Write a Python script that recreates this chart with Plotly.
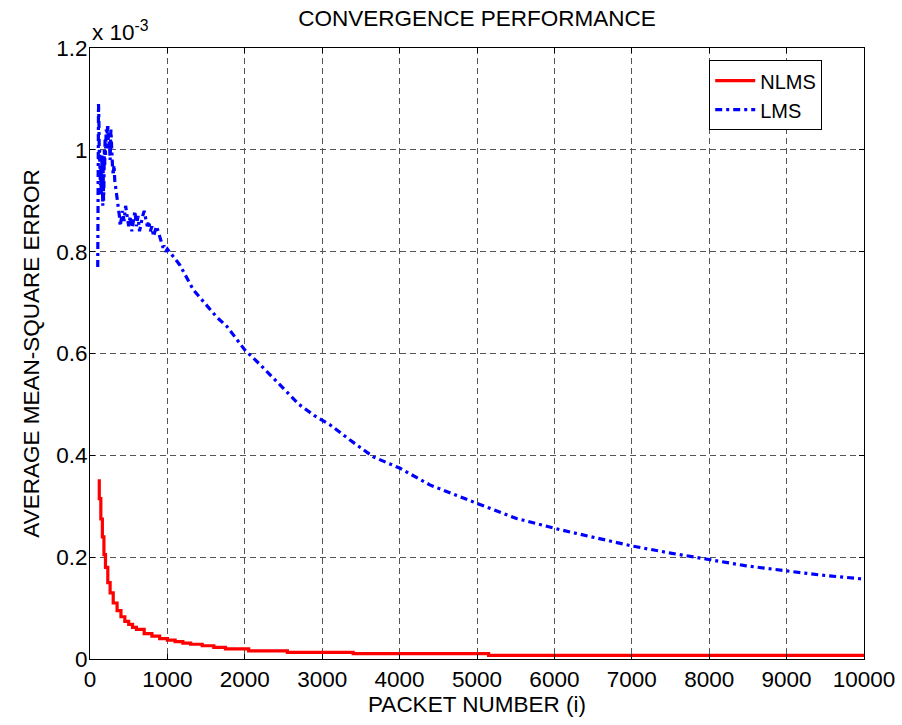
import plotly.graph_objects as go

# Values in units of 1e-3
nlms_x = [100, 120, 140, 160, 180, 200, 230, 260, 300, 350, 400, 450, 500, 550, 600, 700, 800,
          900, 1000, 1100, 1200, 1300, 1450, 1600, 1750, 2050, 2550, 3400, 5150, 10000]
nlms_y = [0.35, 0.315, 0.275, 0.24, 0.205, 0.18, 0.15, 0.13, 0.11, 0.095, 0.083, 0.074, 0.068,
          0.062, 0.058, 0.050, 0.045, 0.040, 0.037, 0.034, 0.031, 0.029, 0.026, 0.023, 0.020,
          0.016, 0.013, 0.0105, 0.007, 0.007]

lms_x = [100, 102, 105, 110, 115, 120, 125, 130, 135, 140, 145, 150, 155, 160, 165, 170, 175,
         180, 185, 190, 195, 200, 210, 220, 230, 240, 250, 260, 270, 280, 290, 300, 310, 320,
         330, 340, 350, 360, 370, 380, 390, 400, 420, 440, 460, 480, 500, 520, 540, 560, 580,
         600, 620, 640, 660, 680, 700, 720, 740, 760, 780, 800, 820, 840, 860, 880, 900, 920,
         940, 960, 980, 1000, 1160, 1335, 1465, 1640, 1770, 2000, 2200, 2370, 2500, 2700,
         2900, 3100, 3360, 3660, 4000, 4390, 5010, 5510, 6100, 6500, 7000, 7500, 8000, 8480,
         9000, 9430, 10000]
lms_y = [0.77, 0.85, 1.02, 1.09, 1.06, 0.98, 1.0, 0.95, 0.93, 0.97, 0.91, 0.94, 0.99, 0.92,
         0.89, 0.96, 0.90, 0.93, 1.00, 0.97, 1.02, 0.99, 1.04, 1.03, 1.05, 1.00, 1.02, 0.98,
         1.04, 0.99, 0.97, 0.95, 0.97, 0.94, 0.93, 0.91, 0.90, 0.89, 0.88, 0.87, 0.85, 0.86,
         0.88, 0.86, 0.89, 0.87, 0.85, 0.87, 0.84, 0.86, 0.88, 0.85, 0.87, 0.84, 0.86, 0.87,
         0.88, 0.86, 0.85, 0.86, 0.84, 0.85, 0.83, 0.84, 0.85, 0.84, 0.83, 0.82, 0.81, 0.81,
         0.80, 0.805, 0.774, 0.725, 0.702, 0.671, 0.653, 0.607, 0.578, 0.551, 0.53, 0.50,
         0.478, 0.460, 0.430, 0.397, 0.375, 0.342, 0.305, 0.276, 0.253, 0.239, 0.222, 0.208,
         0.196, 0.183, 0.173, 0.165, 0.157]

x_ticks = [0, 1000, 2000, 3000, 4000, 5000, 6000, 7000, 8000, 9000, 10000]
x_tick_labels = ["0", "1000", "2000", "3000", "4000", "5000", "6000", "7000", "8000", "9000", "10000"]
y_ticks = [0, 0.2, 0.4, 0.6, 0.8, 1.0, 1.2]
y_tick_labels = ["0", "0.2", "0.4", "0.6", "0.8", "1", "1.2"]

FONT = "Liberation Sans, Arial, sans-serif"
FS = 22.5

axis_font = dict(size=FS, color="black", family=FONT)

fig = go.Figure()
fig.add_trace(go.Scatter(x=nlms_x, y=nlms_y, mode="lines", name="NLMS",
                         line=dict(color="#ff0000", width=3.2, shape="hv")))
fig.add_trace(go.Scatter(x=lms_x, y=lms_y, mode="lines", name="LMS",
                         line=dict(color="#0000ff", width=3.2, dash="7px,4px,3px,4px")))

axis_common = dict(showline=True, linecolor="black", linewidth=1, mirror="ticks",
                   ticks="inside", ticklen=5, tickcolor="black",
                   showgrid=True, gridcolor="#555555", griddash="6px,4px", gridwidth=1,
                   zeroline=False, tickfont=axis_font)

fig.update_xaxes(range=[0, 10000], tickvals=x_ticks, ticktext=x_tick_labels, **axis_common,
                 ticklabelstandoff=0,
                 title=dict(text="PACKET NUMBER (i)", font=axis_font, standoff=0))
fig.update_yaxes(range=[0, 1.2], tickvals=y_ticks, ticktext=y_tick_labels, **axis_common,
                 ticklabelstandoff=-3,
                 title=dict(text="AVERAGE MEAN-SQUARE ERROR", font=axis_font, standoff=10))

fig.add_annotation(text="x 10<sup>-3</sup>", xref="paper", yref="paper", x=0, y=1.0,
                   xanchor="left", yanchor="bottom", showarrow=False, yshift=1,
                   font=dict(size=FS, color="black", family=FONT))

fig.update_layout(
    width=902, height=725,
    margin=dict(l=90, r=38, t=48, b=66, autoexpand=False),
    paper_bgcolor="white", plot_bgcolor="white",
    font=dict(family=FONT, size=FS, color="black"),
    title=dict(text="CONVERGENCE PERFORMANCE", xref="paper", x=0.5, xanchor="center",
               y=0.975, yanchor="middle", font=dict(size=FS, color="black", family=FONT)),
    legend=dict(x=0.80, y=0.98, xanchor="left", yanchor="top", bgcolor="white",
                bordercolor="black", borderwidth=1, font=dict(size=20, color="black", family=FONT),
                itemwidth=40, tracegroupgap=0),
    showlegend=True,
)

fig.write_html("out.html")
